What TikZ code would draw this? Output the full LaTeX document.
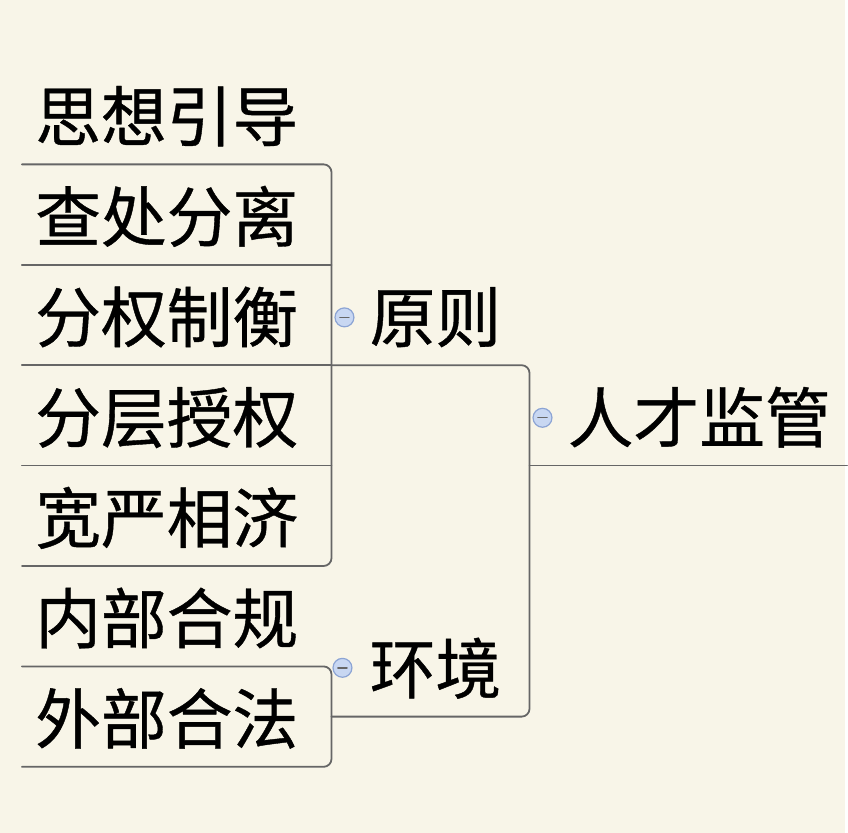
\documentclass[tikz,border=0pt]{standalone}
\usepackage{fontspec}
\newfontfamily\cjk[FakeBold=0.6]{Noto Sans CJK SC}
\usetikzlibrary{positioning,calc}
\definecolor{paper}{HTML}{F8F5E8}
\definecolor{branchgray}{HTML}{666666}
\definecolor{foldfill}{HTML}{C8D7F2}
\definecolor{folddraw}{HTML}{8CA4D4}
\begin{document}
\begin{tikzpicture}[x=0.5pt,y=-0.5pt,line join=round,line cap=round,
	topic/.style={inner xsep=0pt,inner ysep=11.5pt,text height=27pt,text depth=0pt,align=left,
		font=\cjk\fontsize{33pt}{33pt}\selectfont},
	leaf/.style={topic,text width=155pt,execute at begin node={\hspace*{6.5pt}}},
	mid/.style={topic,text width=99pt,execute at begin node={\hspace*{19pt}}},
	root/.style={topic,text width=159pt,execute at begin node={\hspace*{19pt}}},
	branch/.style={draw=branchgray,line width=0.9pt,rounded corners=4pt},
	fold/.style={circle,draw=folddraw,fill=foldfill,line width=0.6pt,minimum size=9.5pt,inner sep=0pt,
		path picture={\draw[branchgray,line width=0.7pt] ([xshift=-2.3pt]path picture bounding box.center)--([xshift=2.3pt]path picture bounding box.center);}}]
	\fill[paper] (0,0) rectangle (848,836);
	% leaves
	\node[leaf,anchor=south west] (sxyd) at (22,165) {思想引导};
	\node[leaf,below=0pt of sxyd] (ccfl) {查处分离};
	\node[leaf,below=0pt of ccfl] (fqzh) {分权制衡};
	\node[leaf,below=0pt of fqzh] (fcsq) {分层授权};
	\node[leaf,below=0pt of fcsq] (kyxj) {宽严相济};
	\node[leaf,below=0pt of kyxj] (nbhg) {内部合规};
	\node[leaf,below=0pt of nbhg] (wbhf) {外部合法};
	% branches
	\node[mid,anchor=south west] (yz) at (fqzh.south east) {原则};
	\node[mid,anchor=south west] (hj) at ($(nbhg.south east)!0.5!(wbhf.south east)$) {环境};
	\node[root,anchor=south west] (rcjg) at (yz.south east |- fcsq.south) {人才监管};
	% lines
	\draw[branch] (sxyd.south west)--(sxyd.south east)--(kyxj.south east)--(kyxj.south west);
	\draw[branch] (ccfl.south west)--(ccfl.south east);
	\draw[branch] (fqzh.south west)--(fqzh.south east);
	\draw[branch] (fcsq.south west)--(fcsq.south east);
	\draw[branch] (nbhg.south west)--(nbhg.south east)--(wbhf.south east)--(wbhf.south west);
	\draw[branch] (yz.south west)--(yz.south east)--(hj.south east)--(hj.south west);
	\draw[branch] (rcjg.south west)--(rcjg.south east);
	% fold marks
	\node[fold] (yz-fold) at ([xshift=6.5pt,yshift=24pt]yz.south west) {};
	\node[fold] (hj-fold) at ([xshift=5.5pt,yshift=24.5pt]hj.south west) {};
	\node[fold] (rcjg-fold) at ([xshift=6.5pt,yshift=24pt]rcjg.south west) {};
\end{tikzpicture}
\end{document}
